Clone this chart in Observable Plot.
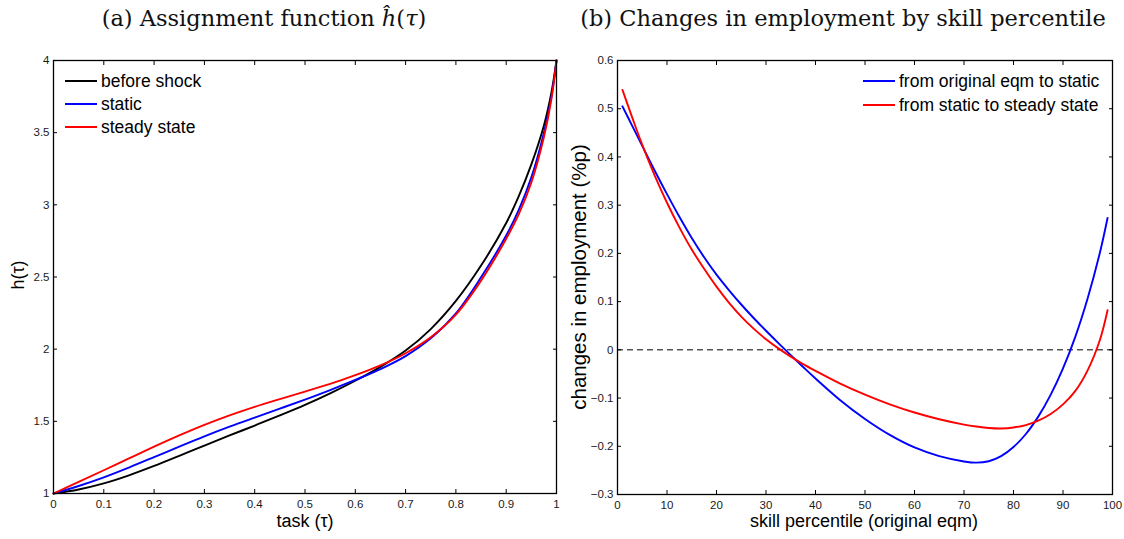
<!DOCTYPE html>
<html><head><meta charset="utf-8">
<script src="https://cdn.jsdelivr.net/npm/d3@7"></script>
<script src="https://cdn.jsdelivr.net/npm/@observablehq/plot@0.6"></script>
<style>
body{margin:0;background:#fff;}
#wrap{position:relative;width:1124px;height:539px;overflow:hidden;font-family:"Liberation Sans",Arial,sans-serif;color:#000;}
.panel{position:absolute;top:0;}
.title{position:absolute;font-family:"DejaVu Serif",serif;font-size:22.5px;line-height:26px;white-space:nowrap;color:#111;transform:translateX(-50%);}
.atitle{position:absolute;font-size:18px;line-height:20px;white-space:nowrap;transform:translate(-50%,-50%);}
.atitle.rot{transform:translate(-50%,-50%) rotate(-90deg);}
.leg{position:absolute;font-size:17.5px;line-height:20px;white-space:nowrap;display:flex;align-items:center;}
.leg span.sw{display:inline-block;width:32px;height:2px;margin-right:4px;}
</style></head><body><div id="wrap"></div>
<script>
// ---- Panel (a): assignment function h(tau) ----
const tau      = [0,0.05,0.1,0.15,0.2,0.25,0.3,0.35,0.4,0.45,0.5,0.55,0.6,0.65,0.7,0.75,0.8,0.85,0.9,0.925,0.95,0.975,0.99,1];
const hBefore  = [1,1.028,1.07,1.126,1.191,1.261,1.332,1.402,1.471,1.541,1.614,1.694,1.781,1.877,1.99,2.139,2.334,2.579,2.874,3.06,3.28,3.55,3.78,4];
const hStatic  = [1,1.052,1.112,1.18,1.252,1.325,1.396,1.463,1.526,1.588,1.651,1.717,1.787,1.862,1.952,2.075,2.248,2.498,2.788,2.965,3.19,3.5,3.75,4];
const hSteady  = [1,1.08,1.161,1.243,1.324,1.402,1.475,1.541,1.6,1.654,1.706,1.759,1.82,1.888,1.972,2.083,2.24,2.475,2.765,2.935,3.155,3.47,3.735,4];
const seriesA  = ["before shock","static","steady state"];
const colorsA  = ["#000000","#0000ff","#ff0000"];
const xTicksA  = [0,0.1,0.2,0.3,0.4,0.5,0.6,0.7,0.8,0.9,1];
const yTicksA  = [1,1.5,2,2.5,3,3.5,4];

// ---- Panel (b): changes in employment by skill percentile ----
const skill    = [1,3,5,7.5,10,12.5,15,17.5,20,22.5,25,27.5,30,32.5,35,37.5,40,45,50,55,60,65,70,72.5,75,77.5,80,82.5,85,87.5,90,92.5,95,97.5,99];
const dStatic  = [0.505,0.464,0.423,0.372,0.323,0.276,0.232,0.192,0.156,0.124,0.094,0.066,0.0395,0.014,-0.011,-0.0355,-0.0595,-0.1045,-0.1435,-0.1765,-0.2025,-0.2205,-0.2315,-0.234,-0.231,-0.2205,-0.2015,-0.1745,-0.1385,-0.0935,-0.0385,0.0275,0.1075,0.2035,0.2735];
const dSteady  = [0.539,0.481,0.425,0.362,0.305,0.254,0.208,0.168,0.131,0.098,0.069,0.044,0.022,0.003,-0.014,-0.0295,-0.0435,-0.07,-0.093,-0.113,-0.13,-0.144,-0.155,-0.159,-0.162,-0.163,-0.161,-0.156,-0.147,-0.133,-0.113,-0.085,-0.042,0.022,0.082];
const seriesB  = ["from original eqm to static","from static to steady state"];
const colorsB  = ["#0000ff","#ff0000"];
const xTicksB  = [0,10,20,30,40,50,60,70,80,90,100];
const yTicksB  = [-0.3,-0.2,-0.1,0,0.1,0.2,0.3,0.4,0.5,0.6];

const fmtNum = d => String(+(+d).toFixed(2)).replace("-", "\u2212");
const style = {fontFamily:'"Liberation Sans", Arial, sans-serif', fontSize:"11.5px", color:"#1a1a1a", background:"transparent", overflow:"visible"};

function axes(xt, yt) {
  const tk = {fill:"none", label:null, tickSize:4, strokeWidth:1, stroke:"#000"};
  return [
    Plot.axisX(xt, {anchor:"bottom", tickSize:0, tickPadding:6, tickFormat:fmtNum, label:null}),
    Plot.axisY(yt, {anchor:"left", tickSize:0, tickPadding:4, tickFormat:fmtNum, label:null}),
    Plot.axisX(xt, {...tk, anchor:"bottom", dy:-4}),
    Plot.axisX(xt, {...tk, anchor:"top", dy:4}),
    Plot.axisY(yt, {...tk, anchor:"left", dx:4}),
    Plot.axisY(yt, {...tk, anchor:"right", dx:-4})
  ];
}

const dataA = [hBefore, hStatic, hSteady].flatMap((arr, k) => tau.map((t, i) => ({t, h: arr[i], s: seriesA[k]})));
const dataB = [dStatic, dSteady].flatMap((arr, k) => skill.map((p, i) => ({p, v: arr[i], s: seriesB[k]})));

const left = Plot.plot({
  width:560, height:539,
  marginLeft:53, marginRight:4, marginTop:60, marginBottom:46,
  style,
  x:{domain:[0,1]},
  y:{domain:[1,4]},
  color:{domain:seriesA, range:colorsA},
  marks:[
    ...axes(xTicksA, yTicksA),
    Plot.line(dataA, {x:"t", y:"h", z:"s", stroke:"s", strokeWidth:1.9, curve:"catmull-rom"}),
    Plot.frame({stroke:"#000", strokeWidth:1.3})
  ]
});
left.classList.add("panel"); left.style.left = "0px";

const right = Plot.plot({
  width:564, height:539,
  marginLeft:57, marginRight:12, marginTop:60, marginBottom:45,
  style,
  x:{domain:[0,100]},
  y:{domain:[-0.3,0.6]},
  color:{domain:seriesB, range:colorsB},
  marks:[
    ...axes(xTicksB, yTicksB),
    Plot.ruleY([0], {stroke:"#000", strokeWidth:1, strokeDasharray:"6,4"}),
    Plot.line(dataB, {x:"p", y:"v", z:"s", stroke:"s", strokeWidth:1.9, curve:"catmull-rom"}),
    Plot.frame({stroke:"#000", strokeWidth:1.3})
  ]
});
right.classList.add("panel"); right.style.left = "560px";

const wrap = document.getElementById("wrap");
wrap.appendChild(left);
wrap.appendChild(right);

function addDiv(cls, html, css) {
  const d = document.createElement("div");
  d.className = cls; d.innerHTML = html;
  Object.assign(d.style, css);
  wrap.appendChild(d);
  return d;
}
addDiv("title", "(a) Assignment function <i>ĥ</i>(<i>τ</i>)", {left:"264px", top:"5px"});
addDiv("title", "(b) Changes in employment by skill percentile", {left:"843px", top:"5px"});
addDiv("atitle", "task (τ)", {left:"305px", top:"521px"});
addDiv("atitle rot", "h(τ)", {left:"18px", top:"275px"});
addDiv("atitle", "skill percentile (original eqm)", {left:"864px", top:"521px"});
addDiv("atitle rot", "changes in employment (%p)", {left:"579px", top:"277px", fontSize:"20.5px"});

seriesA.forEach((s, i) => addDiv("leg", `<span class="sw" style="background:${colorsA[i]}"></span>${s}`, {left:"65px", top:(71 + i*23) + "px"}));
seriesB.forEach((s, i) => addDiv("leg", `<span class="sw" style="background:${colorsB[i]}"></span>${s}`, {left:"863px", top:(71 + i*23.5) + "px"}));
</script>
</body></html>
